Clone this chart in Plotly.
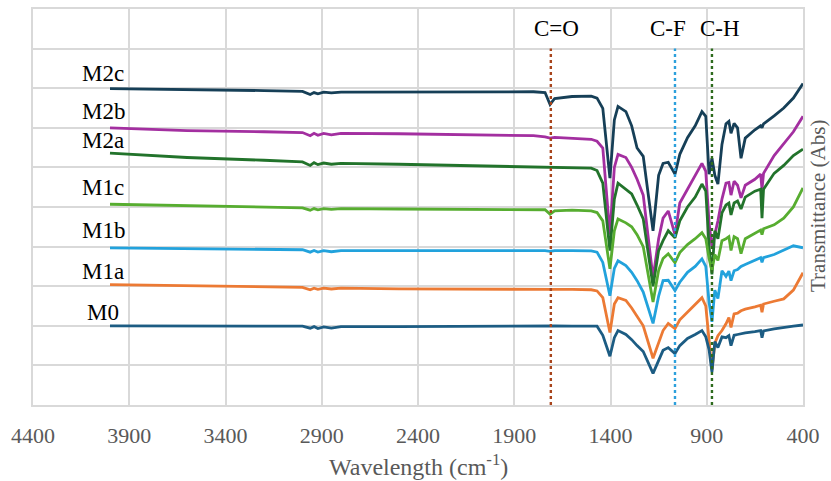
import plotly.graph_objects as go

# Wavenumber grid (cm-1) shared by all spectra
wavenumber = [4000, 3600, 3200, 3000, 2960, 2940, 2920, 2890, 2850, 2800,
              2500, 2200, 1800, 1740, 1714, 1690, 1600, 1500, 1470, 1440,
              1403, 1380, 1361, 1320, 1290, 1262, 1230, 1179, 1150, 1127,
              1100, 1065, 1040, 1000, 960, 925, 905, 888, 873, 858,
              842, 821, 800, 785, 774, 758, 740, 722, 700, 650,
              620, 613, 605, 550, 500, 450, 400]

# Offset transmittance traces
M0 = [2.00, 2.00, 1.99, 1.99, 1.94, 1.98, 1.93, 1.97, 1.94, 1.98,
      1.98, 1.99, 2.00, 2.00, 2.00, 2.00, 1.99, 2.00, 1.99, 1.76,
      1.23, 1.70, 1.88, 1.78, 1.65, 1.50, 1.35, 0.80, 1.15, 1.38,
      1.45, 1.30, 1.50, 1.68, 1.78, 1.88, 1.72, 1.40, 0.83, 1.60,
      1.45, 1.72, 1.70, 1.75, 1.50, 1.76, 1.78, 1.80, 1.82, 1.85,
      1.88, 1.70, 1.87, 1.92, 1.96, 1.99, 2.02]
M1a = [3.04, 3.01, 2.99, 2.97, 2.91, 2.95, 2.92, 2.95, 2.93, 2.95,
       2.93, 2.92, 2.92, 2.92, 2.92, 2.92, 2.92, 2.91, 2.88, 2.71,
       1.83, 2.55, 2.71, 2.64, 2.45, 2.25, 2.00, 1.18, 1.60, 1.88,
       2.06, 1.93, 2.15, 2.34, 2.55, 2.71, 2.50, 1.60, 0.88, 1.56,
       1.75, 1.88, 2.05, 2.21, 1.96, 2.30, 2.32, 2.38, 2.42, 2.48,
       2.52, 2.34, 2.55, 2.62, 2.68, 2.90, 3.34]
M1b = [3.97, 3.95, 3.93, 3.92, 3.86, 3.90, 3.86, 3.90, 3.87, 3.90,
       3.90, 3.90, 3.91, 3.90, 3.88, 3.90, 3.90, 3.89, 3.86, 3.60,
       2.76, 3.45, 3.64, 3.52, 3.35, 3.14, 2.85, 2.06, 2.75, 3.14,
       3.15, 2.89, 3.10, 3.35, 3.50, 3.69, 3.50, 2.60, 2.10, 2.90,
       2.69, 3.39, 3.25, 3.38, 3.14, 3.39, 3.42, 3.50, 3.55, 3.65,
       3.72, 3.60, 3.72, 3.80, 3.90, 4.02, 3.97]
M1c = [5.07, 5.03, 5.00, 4.98, 4.92, 4.96, 4.93, 4.96, 4.94, 4.96,
       4.95, 4.94, 4.94, 4.93, 4.82, 4.90, 4.92, 4.90, 4.86, 4.65,
       3.44, 4.40, 4.70, 4.60, 4.50, 4.30, 4.00, 2.60, 3.40, 3.70,
       3.82, 3.59, 3.85, 4.05, 4.20, 4.35, 4.20, 3.70, 3.40, 3.80,
       3.65, 4.15, 4.20, 4.25, 3.90, 4.25, 4.20, 3.82, 4.20, 4.33,
       4.42, 4.30, 4.45, 4.55, 4.72, 5.00, 5.48]
M2a = [6.36, 6.25, 6.18, 6.14, 6.05, 6.12, 6.07, 6.11, 6.08, 6.10,
       6.08, 6.05, 6.02, 6.02, 6.01, 6.01, 6.00, 5.98, 5.92, 5.60,
       3.90, 5.20, 5.60, 5.45, 5.33, 5.05, 4.70, 3.00, 3.90, 4.15,
       4.40, 4.22, 4.65, 5.00, 5.25, 5.58, 5.40, 4.00, 3.30, 4.40,
       4.20, 4.85, 5.05, 5.10, 4.80, 5.10, 5.15, 4.95, 5.25, 5.40,
       5.45, 4.72, 5.45, 5.85, 6.05, 6.30, 6.46]
M2b = [7.00, 6.93, 6.90, 6.88, 6.80, 6.86, 6.81, 6.86, 6.82, 6.86,
       6.85, 6.83, 6.80, 6.77, 6.74, 6.76, 6.74, 6.71, 6.66, 6.49,
       4.30, 6.00, 6.33, 6.25, 6.00, 5.70, 5.30, 3.20, 4.20, 4.72,
       4.90, 4.30, 5.10, 5.45, 5.80, 6.10, 5.90, 4.60, 4.00, 4.30,
       4.65, 5.20, 5.60, 5.62, 5.30, 5.65, 5.55, 5.23, 5.55, 5.70,
       5.83, 5.45, 5.85, 6.30, 6.60, 6.90, 7.29]
M2c = [7.99, 7.97, 7.94, 7.92, 7.84, 7.89, 7.86, 7.90, 7.88, 7.90,
       7.90, 7.90, 7.91, 7.89, 7.59, 7.74, 7.79, 7.80, 7.75, 7.49,
       5.73, 7.20, 7.54, 7.41, 7.05, 6.49, 6.28, 4.40, 5.80, 6.10,
       6.13, 5.83, 6.33, 6.75, 7.05, 7.41, 7.29, 5.83, 6.23, 5.80,
       5.58, 6.58, 7.10, 7.16, 6.86, 7.11, 7.00, 6.23, 6.74, 6.95,
       7.05, 7.00, 7.10, 7.30, 7.50, 7.75, 8.12]

series_names = ["M2c", "M2b", "M2a", "M1c", "M1b", "M1a", "M0"]
series_values = [M2c, M2b, M2a, M1c, M1b, M1a, M0]
series_colors = ["#163F57", "#A32FA0", "#22732B", "#57AD30", "#22A2DC", "#EC7A34", "#1C5C83"]
label_y = [8.37, 7.41, 6.68, 5.48, 4.40, 3.37, 2.34]

# Band markers
band_names = ["C=O", "C-F", "C-H"]
band_positions = [1710, 1065, 873]
band_colors = ["#A8441C", "#2CA0DC", "#2E6B1E"]
band_label_x = [1683, 1101, 831]

x_ticks = [4400, 3900, 3400, 2900, 2400, 1900, 1400, 900, 400]

SERIF = "Liberation Serif, Times New Roman, serif"
GRID = "#D9D9D9"
TEXT_GREY = "#595959"

fig = go.Figure()

for name, vals, col in zip(series_names, series_values, series_colors):
    fig.add_trace(go.Scatter(
        x=wavenumber, y=vals, mode="lines", name=name,
        line=dict(color=col, width=2.8), showlegend=False,
    ))

for pos, col in zip(band_positions, band_colors):
    fig.add_shape(type="line", x0=pos, x1=pos, y0=0, y1=9,
                  xref="x", yref="y", layer="above",
                  line=dict(color=col, width=2.4, dash="dot"))

annotations = []
for name, ly in zip(series_names, label_y):
    annotations.append(dict(x=4035, y=ly, xref="x", yref="y", text=name,
                            showarrow=False, xanchor="center", yanchor="middle",
                            font=dict(family=SERIF, size=23, color="#000000")))
for name, bx in zip(band_names, band_label_x):
    annotations.append(dict(x=bx, y=9.5, xref="x", yref="y", text=name,
                            showarrow=False, xanchor="center", yanchor="middle",
                            font=dict(family=SERIF, size=23, color="#000000")))

# Axis titles
annotations.append(dict(x=0.5, y=-0.1508, xref="paper", yref="paper",
                        text="Wavelength (cm<sup>-1</sup>)", showarrow=False,
                        xanchor="center", yanchor="middle",
                        font=dict(family=SERIF, size=24, color=TEXT_GREY)))
annotations.append(dict(x=1.0195, y=0.5025, xref="paper", yref="paper",
                        text="Transmittance (Abs)", textangle=-90, showarrow=False,
                        xanchor="center", yanchor="middle",
                        font=dict(family=SERIF, size=21, color=TEXT_GREY)))

fig.update_layout(
    width=831, height=481,
    margin=dict(l=33, r=28, t=7, b=76),
    paper_bgcolor="white", plot_bgcolor="white",
    annotations=annotations,
    xaxis=dict(
        range=[4400, 400], tickmode="array", tickvals=x_ticks,
        ticktext=[str(t) for t in x_ticks],
        showgrid=True, gridcolor=GRID, gridwidth=1.5,
        showline=True, linecolor=GRID, linewidth=1.5, mirror=True,
        zeroline=False, ticks="", ticklabelstandoff=10,
        tickfont=dict(family=SERIF, size=22, color=TEXT_GREY),
    ),
    yaxis=dict(
        range=[0, 10], dtick=1, showticklabels=False,
        showgrid=True, gridcolor=GRID, gridwidth=1.5,
        showline=True, linecolor=GRID, linewidth=1.5, mirror=True,
        zeroline=False, ticks="",
    ),
)

fig.write_html("out.html")
